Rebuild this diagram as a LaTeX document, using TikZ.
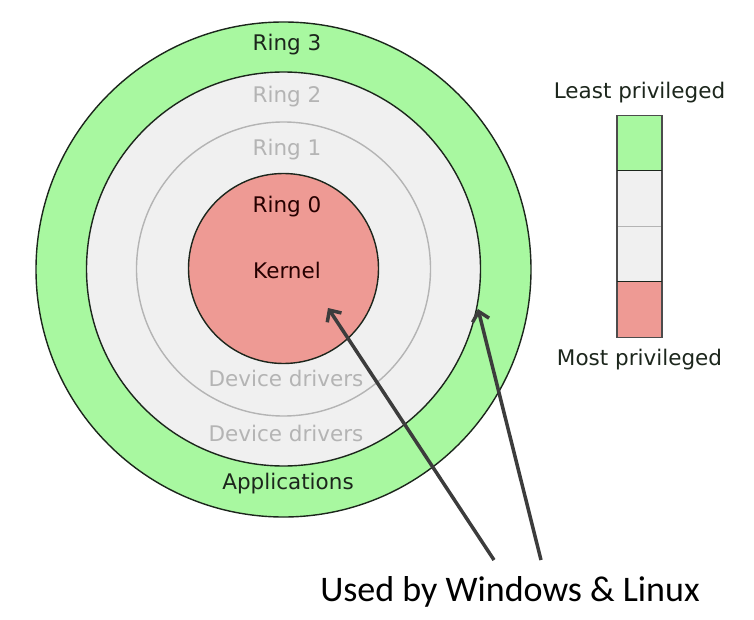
\documentclass[tikz,border=0pt]{standalone}
\usepackage{fontspec}
\setmainfont{DejaVu Sans}
\newfontfamily\usedfont{Carlito}
\usetikzlibrary{arrows.meta, shapes}
\usetikzlibrary{positioning}
\definecolor{ringgreen}{HTML}{A8F8A0}
\definecolor{ringgray}{HTML}{F0F0F0}
\definecolor{ringred}{HTML}{EE9A94}
\definecolor{ringline}{HTML}{1C261C}
\definecolor{fadetext}{HTML}{B4B4B4}
\definecolor{arrowgray}{HTML}{3C3C3C}

\begin{document}
\begin{tikzpicture}[x=1pt,y=-1pt,
    ring/.style={circle,draw=ringline,line width=1.4pt,inner sep=0pt},
    lbl/.style={font=\fontsize{21.5}{24}\selectfont,text=ringline},
    faint/.style={font=\fontsize{21.5}{24}\selectfont,text=fadetext},
    seg/.style={draw=#1,line width=1pt,minimum width=45pt,minimum height=55.5pt,inner sep=0pt,outer sep=0pt},
    used/.style={draw=arrowgray,line width=3.5pt,-{Straight Barb[length=9pt,width=17pt]}}]
\useasboundingbox (0,0) rectangle (754,620);
\node (r3) [ring,fill=ringgreen,minimum size=495pt] at (283.5,269.5) {};
\node (r2) [ring,fill=ringgray,minimum size=394pt] at (283.5,269) {};
\node (r1) [ring,draw=fadetext,fill=ringgray,minimum size=294pt] at (283.5,269) {};
\node (r0) [ring,fill=ringred,minimum size=190pt] at (283.5,268.5) {};
\node (t3) [lbl] at (287,45) {Ring 3};
\node (t2) [faint] at (287,97) {Ring 2};
\node (t1) [faint] at (287,150) {Ring 1};
\node (t0) [lbl,text=black!85!red] at (287,207) {Ring 0};
\node (k) [lbl,text=black!85!red] at (287,270) {Kernel};
\node (d1) [faint] at (286,378) {Device drivers};
\node (d2) [faint] at (286,433) {Device drivers};
\node (a) [lbl] at (288,484) {Applications};
% legend
\node (lg3) [seg=ringline,fill=ringgreen] at (639.5,143) {};
\node (lg2) [seg=fadetext,fill=ringgray,below=0pt of lg3] {};
\node (lg1) [seg=fadetext,fill=ringgray,below=0pt of lg2] {};
\node (lg0) [seg=ringline,fill=ringred,below=0pt of lg1] {};
\draw[black!70,line width=1.2pt] (lg3.north west) rectangle (lg0.south east);
\draw[ringline,line width=1pt] (lg3.south west) -- (lg3.south east);
\draw[ringline,line width=1pt] (lg0.north west) -- (lg0.north east);
\node (least) [lbl,above=9pt of lg3] {Least privileged};
\node (most) [lbl,below=8pt of lg0] {Most privileged};
% arrows
\node (u) [font=\usedfont\fontsize{36}{40}\selectfont] at (510,592) {Used by Windows \& Linux};
\coordinate (u0) at (494,560);
\coordinate (u3) at (541,560);
\coordinate (h0) at (328,308);
\coordinate (h3) at (478,309);
\draw[used] (u0) -- (h0);
\draw[used] (u3) -- (h3);
\end{tikzpicture}
\end{document}
